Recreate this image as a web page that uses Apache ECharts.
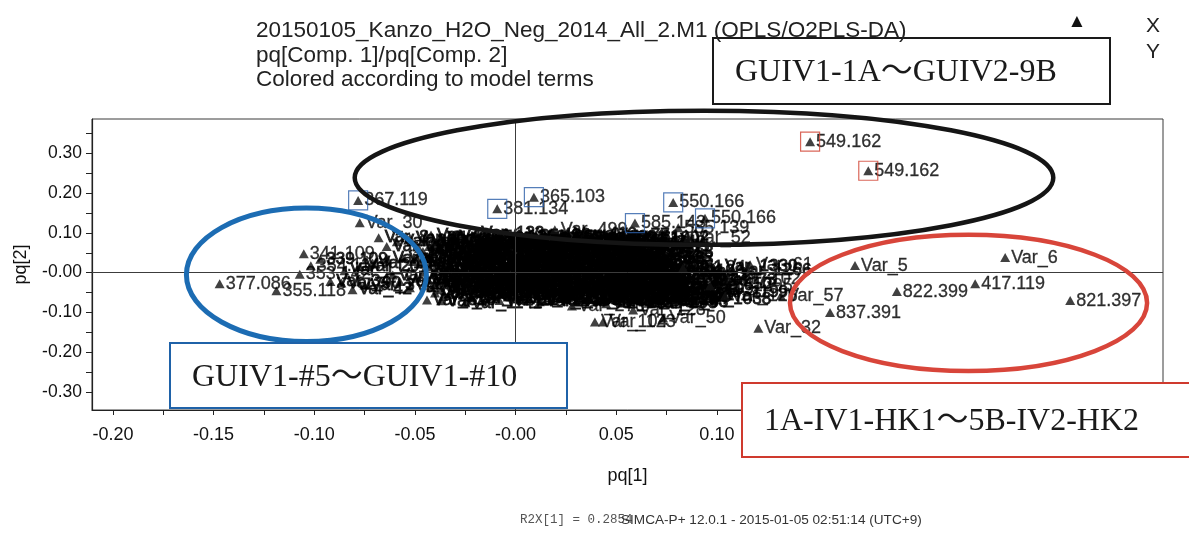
<!DOCTYPE html>
<html>
<head>
<meta charset="utf-8">
<script src="https://cdn.jsdelivr.net/npm/echarts@6/dist/echarts.min.js"></script>
<style>
  html, body { margin: 0; padding: 0; background: #fff; }
  #chart { width: 1189px; height: 538px; }
</style>
</head>
<body>
<div id="chart"></div>
<script>
// Axis ticks and labels (pq[1] horizontal, pq[2] vertical)
const xTickValues = [-0.2, -0.175, -0.15, -0.125, -0.1, -0.075, -0.05, -0.025, 0, 0.025, 0.05, 0.075, 0.1, 0.125, 0.15, 0.175, 0.2, 0.225, 0.25, 0.275, 0.3];
const xLabelValues = [-0.2, -0.15, -0.1, -0.05, 0, 0.05, 0.1, 0.15, 0.2, 0.25, 0.3];
const yTickValues = [-0.3, -0.25, -0.2, -0.15, -0.1, -0.05, 0, 0.05, 0.1, 0.15, 0.2, 0.25, 0.3, 0.35];
const yLabelValues = [-0.3, -0.2, -0.1, 0, 0.1, 0.2, 0.3];

// Loadings of the labelled variables: [pq1, pq2, name, highlight]
const labelledVars = [
  [0.1463, 0.3295, '549.162', 'r'],
  [0.1752, 0.2564, '549.162', 'r'],
  [-0.0782, 0.1816, '367.119', 'b'],
  [-0.0091, 0.1607, '381.134', 'b'],
  [0.0091, 0.1900, '365.103', 'b'],
  [0.0783, 0.1766, '550.166', 'b'],
  [0.0593, 0.1247, '585.143', 'b'],
  [0.0941, 0.1368, '550.166', 'b'],
  [0.0808, 0.1128, '585.139', ''],
  [-0.0774, 0.1254, 'Var_30', ''],
  [0.0195, 0.1080, 'Var_499', ''],
  [0.0857, 0.0877, 'Var_52', ''],
  [-0.1052, 0.0474, '341.109', ''],
  [-0.1017, 0.0171, '354.114', ''],
  [-0.1072, -0.0038, '353.142', ''],
  [-0.1470, -0.0282, '377.086', ''],
  [-0.1188, -0.0458, '355.118', ''],
  [0.1686, 0.0179, 'Var_5', ''],
  [0.2432, 0.0380, 'Var_6', ''],
  [0.1894, -0.0476, '822.399', ''],
  [0.2283, -0.0282, '417.119', ''],
  [0.2755, -0.0703, '821.397', ''],
  [0.1562, -0.1005, '837.391', ''],
  [0.1206, -0.1398, 'Var_32', ''],
  [0.0832, 0.0120, 'Var_24', ''],
  [0.1165, 0.0196, 'Var_61', ''],
  [0.0966, -0.0330, 'Var_1295', ''],
  [0.1056, -0.0160, 'Var_102', ''],
  [0.1041, -0.0580, 'Var_126', ''],
  [0.1318, -0.0580, 'Var_57', ''],
  [0.0584, -0.0940, 'Var_128', ''],
  [0.0394, -0.1240, 'Var_104', ''],
  [0.0434, -0.1240, 'Var_123', ''],
  [0.0733, -0.1140, 'Var_50', ''],
  [0.0280, -0.0840, 'Var_276', '']
];

// Loadings of the remaining variables in the central cloud: [pq1, pq2, name]
const cloudVars = [
  [-0.042, 0.095, 'Var_43'], [-0.031, 0.089, 'Var_254'], [-0.020, 0.098, 'Var_133'], [-0.008, 0.091, 'Var_25'],
  [0.003, 0.094, 'Var_496'], [0.015, 0.088, 'Var_318'], [0.026, 0.097, 'Var_410'], [0.036, 0.090, 'Var_1091'],
  [0.047, 0.093, 'Var_77'], [0.057, 0.087, 'Var_1002'],
  [-0.037, 0.087, 'Var_552'], [-0.025, 0.084, 'Var_119'], [-0.014, 0.088, 'Var_1213'], [-0.003, 0.085, 'Var_307'],
  [0.009, 0.089, 'Var_85'], [0.020, 0.083, 'Var_740'], [0.031, 0.086, 'Var_1160'], [0.041, 0.084, 'Var_229'],
  [0.052, 0.088, 'Var_61x'],
  [-0.045, 0.078, 'Var_219'], [-0.036, 0.083, 'Var_45'], [-0.024, 0.077, 'Var_1120'], [-0.013, 0.082, 'Var_267'],
  [-0.002, 0.079, 'Var_38'], [0.009, 0.084, 'Var_503'], [0.021, 0.076, 'Var_1187'], [0.031, 0.081, 'Var_92'],
  [0.042, 0.078, 'Var_615'], [0.052, 0.083, 'Var_71'], [0.060, 0.077, 'Var_340'],
  [-0.040, 0.072, 'Var_636'], [-0.029, 0.075, 'Var_104x'], [-0.018, 0.071, 'Var_291'], [-0.007, 0.074, 'Var_55'],
  [0.004, 0.070, 'Var_1230'], [0.015, 0.076, 'Var_472'], [0.026, 0.072, 'Var_89'], [0.037, 0.074, 'Var_1011'],
  [0.047, 0.071, 'Var_366'], [0.057, 0.075, 'Var_52x'],
  [-0.043, 0.066, 'Var_188'], [-0.033, 0.070, 'Var_12'], [-0.021, 0.064, 'Var_871'], [-0.010, 0.069, 'Var_356'],
  [0.001, 0.065, 'Var_64'], [0.012, 0.071, 'Var_1023'], [0.024, 0.066, 'Var_447'], [0.034, 0.068, 'Var_19'],
  [0.045, 0.063, 'Var_726'], [0.055, 0.070, 'Var_58'], [0.062, 0.066, 'Var_905'],
  [-0.048, 0.061, 'Var_1184'], [-0.038, 0.059, 'Var_263'], [-0.026, 0.062, 'Var_94'], [-0.015, 0.058, 'Var_1054'],
  [-0.004, 0.061, 'Var_339'], [0.007, 0.063, 'Var_76'], [0.019, 0.059, 'Var_1227'], [0.030, 0.062, 'Var_485'],
  [0.040, 0.058, 'Var_21'], [0.050, 0.061, 'Var_968'], [0.059, 0.059, 'Var_137'],
  [-0.046, 0.053, 'Var_147'], [-0.037, 0.057, 'Var_682'], [-0.027, 0.051, 'Var_33'], [-0.016, 0.056, 'Var_1206'],
  [-0.005, 0.052, 'Var_278'], [0.006, 0.058, 'Var_91'], [0.018, 0.053, 'Var_564'], [0.029, 0.055, 'Var_15'],
  [0.039, 0.050, 'Var_803'], [0.050, 0.056, 'Var_47'], [0.060, 0.052, 'Var_1158'],
  [-0.041, 0.048, 'Var_418'], [-0.030, 0.046, 'Var_1127'], [-0.019, 0.049, 'Var_68'], [-0.008, 0.045, 'Var_593'],
  [0.003, 0.048, 'Var_1249'], [0.014, 0.050, 'Var_201'], [0.025, 0.046, 'Var_82'], [0.035, 0.048, 'Var_1073'],
  [0.046, 0.045, 'Var_314'], [0.056, 0.049, 'Var_96'],
  [-0.044, 0.040, 'Var_391'], [-0.034, 0.044, 'Var_86'], [-0.023, 0.038, 'Var_1042'], [-0.012, 0.043, 'Var_172'],
  [-0.001, 0.039, 'Var_29'], [0.010, 0.045, 'Var_658'], [0.021, 0.040, 'Var_113'], [0.032, 0.042, 'Var_947'],
  [0.043, 0.037, 'Var_62'], [0.053, 0.043, 'Var_1274'], [0.063, 0.039, 'Var_305'],
  [-0.042, 0.035, 'Var_745'], [-0.031, 0.033, 'Var_51'], [-0.020, 0.036, 'Var_1135'], [-0.009, 0.032, 'Var_240x'],
  [0.002, 0.035, 'Var_87'], [0.013, 0.037, 'Var_819'], [0.024, 0.033, 'Var_1209'], [0.035, 0.035, 'Var_177'],
  [0.045, 0.032, 'Var_40'], [0.055, 0.036, 'Var_1056'], [0.064, 0.033, 'Var_383'],
  [-0.047, 0.027, 'Var_519'], [-0.038, 0.031, 'Var_74'], [-0.028, 0.025, 'Var_1139'], [-0.017, 0.030, 'Var_226'],
  [-0.006, 0.026, 'Var_41'], [0.005, 0.032, 'Var_787'], [0.016, 0.027, 'Var_156'], [0.027, 0.029, 'Var_83'],
  [0.038, 0.024, 'Var_1065'], [0.048, 0.030, 'Var_412'], [0.058, 0.026, 'Var_67'],
  [-0.045, 0.022, 'Var_1201'], [-0.035, 0.020, 'Var_254x'], [-0.024, 0.023, 'Var_98'], [-0.013, 0.019, 'Var_1029'],
  [-0.002, 0.022, 'Var_436'], [0.009, 0.024, 'Var_61y'], [0.020, 0.020, 'Var_1171'], [0.031, 0.022, 'Var_352'],
  [0.041, 0.019, 'Var_79'], [0.051, 0.023, 'Var_1088'], [0.061, 0.020, 'Var_217'],
  [-0.043, 0.014, 'Var_298'], [-0.032, 0.018, 'Var_53'], [-0.022, 0.012, 'Var_934'], [-0.011, 0.017, 'Var_181'],
  [0.000, 0.013, 'Var_22'], [0.011, 0.019, 'Var_709'], [0.023, 0.014, 'Var_1097'], [0.033, 0.016, 'Var_35'],
  [0.044, 0.011, 'Var_468'], [0.054, 0.017, 'Var_99'], [0.064, 0.013, 'Var_1251'],
  [-0.040, 0.009, 'Var_527'], [-0.029, 0.007, 'Var_1142'], [-0.018, 0.010, 'Var_63x'], [-0.007, 0.006, 'Var_285'],
  [0.004, 0.009, 'Var_1268'], [0.015, 0.011, 'Var_106'], [0.026, 0.007, 'Var_57x'], [0.037, 0.009, 'Var_934x'],
  [0.047, 0.006, 'Var_211'], [0.057, 0.010, 'Var_1093'], [0.067, 0.007, 'Var_48x'],
  [-0.046, 0.001, 'Var_603'], [-0.036, 0.005, 'Var_18'], [-0.026, -0.001, 'Var_1176'], [-0.015, 0.004, 'Var_247'],
  [-0.004, 0.000, 'Var_69'], [0.007, 0.006, 'Var_832'], [0.018, 0.001, 'Var_140'], [0.029, 0.003, 'Var_27'],
  [0.040, -0.002, 'Var_951'], [0.050, 0.004, 'Var_376'], [0.060, 0.000, 'Var_88'], [0.070, 0.003, 'Var_1219'],
  [-0.041, -0.004, 'Var_1037'], [-0.030, -0.006, 'Var_322'], [-0.019, -0.003, 'Var_70'], [-0.008, -0.007, 'Var_1185'],
  [0.003, -0.004, 'Var_459'], [0.014, -0.002, 'Var_93x'], [0.025, -0.006, 'Var_1240'], [0.036, -0.004, 'Var_168'],
  [0.046, -0.007, 'Var_32x'], [0.056, -0.003, 'Var_1101'], [0.066, -0.006, 'Var_274'], [0.075, -0.004, 'Var_56'],
  [-0.044, -0.012, 'Var_425'], [-0.033, -0.008, 'Var_93'], [-0.023, -0.014, 'Var_1081'], [-0.012, -0.009, 'Var_214'],
  [-0.001, -0.013, 'Var_46'], [0.010, -0.007, 'Var_697'], [0.022, -0.012, 'Var_165'], [0.032, -0.010, 'Var_1302'],
  [0.043, -0.015, 'Var_59'], [0.053, -0.009, 'Var_548'], [0.063, -0.013, 'Var_1262'],
  [-0.039, -0.017, 'Var_689'], [-0.028, -0.019, 'Var_1163'], [-0.017, -0.016, 'Var_44x'], [-0.006, -0.020, 'Var_302'],
  [0.005, -0.017, 'Var_1015'], [0.016, -0.015, 'Var_80'], [0.027, -0.019, 'Var_575'], [0.038, -0.017, 'Var_1237'],
  [0.048, -0.020, 'Var_124'], [0.058, -0.016, 'Var_60'], [0.068, -0.019, 'Var_1119'],
  [-0.045, -0.025, 'Var_731'], [-0.035, -0.021, 'Var_16'], [-0.025, -0.027, 'Var_1048'], [-0.014, -0.022, 'Var_283'],
  [-0.003, -0.026, 'Var_75'], [0.008, -0.020, 'Var_916'], [0.019, -0.025, 'Var_132'], [0.030, -0.023, 'Var_48'],
  [0.041, -0.028, 'Var_1164'], [0.051, -0.022, 'Var_359'], [0.061, -0.026, 'Var_81'], [0.071, -0.023, 'Var_1283'],
  [-0.040, -0.030, 'Var_366x'], [-0.029, -0.032, 'Var_1066'], [-0.018, -0.029, 'Var_84'], [-0.007, -0.033, 'Var_751'],
  [0.004, -0.030, 'Var_1224'], [0.016, -0.028, 'Var_190'], [0.027, -0.032, 'Var_35x'], [0.038, -0.030, 'Var_1047'],
  [0.049, -0.033, 'Var_421'], [0.059, -0.029, 'Var_65'], [0.069, -0.032, 'Var_1207'],
  [-0.042, -0.038, 'Var_462'], [-0.031, -0.034, 'Var_97'], [-0.020, -0.040, 'Var_1013'], [-0.009, -0.035, 'Var_195'],
  [0.002, -0.039, 'Var_37'], [0.013, -0.033, 'Var_874'], [0.025, -0.038, 'Var_209'], [0.035, -0.036, 'Var_66'],
  [0.046, -0.041, 'Var_1195'], [0.056, -0.035, 'Var_431'], [0.066, -0.039, 'Var_72'],
  [-0.037, -0.043, 'Var_896'], [-0.026, -0.045, 'Var_1150'], [-0.014, -0.042, 'Var_237'], [-0.003, -0.046, 'Var_52y'],
  [0.008, -0.043, 'Var_1084x'], [0.020, -0.041, 'Var_347'], [0.031, -0.045, 'Var_91x'], [0.042, -0.043, 'Var_1271'],
  [0.052, -0.046, 'Var_158'], [0.062, -0.042, 'Var_43x'], [0.072, -0.045, 'Var_1033'],
  [-0.040, -0.051, 'Var_588'], [-0.028, -0.047, 'Var_23'], [-0.017, -0.053, 'Var_1106'], [-0.006, -0.048, 'Var_261'],
  [0.005, -0.052, 'Var_54'], [0.016, -0.046, 'Var_963'], [0.027, -0.051, 'Var_118'], [0.038, -0.049, 'Var_39'],
  [0.049, -0.054, 'Var_1247'], [0.059, -0.048, 'Var_387'], [0.069, -0.052, 'Var_95'],
  [-0.033, -0.055, 'Var_705'], [-0.011, -0.057, 'Var_1196'], [0.000, -0.054, 'Var_131'], [0.019, -0.058, 'Var_86x'],
  [0.031, -0.055, 'Var_1258'], [0.042, -0.057, 'Var_403'], [0.053, -0.059, 'Var_77x'], [0.064, -0.055, 'Var_1178'],
  [0.074, -0.058, 'Var_266'],
  [-0.036, -0.060, 'Var_675'], [-0.022, -0.064, 'Var_14'], [-0.004, -0.061, 'Var_1152'], [0.012, -0.065, 'Var_232'],
  [0.024, -0.059, 'Var_78'], [0.036, -0.066, 'Var_1018'], [0.047, -0.062, 'Var_149'], [0.058, -0.067, 'Var_44'],
  [0.068, -0.063, 'Var_1290'],
  [0.003, -0.067, 'Var_612'], [0.018, -0.070, 'Var_1094'], [0.040, -0.069, 'Var_289'], [0.051, -0.066, 'Var_73x'],
  [0.062, -0.070, 'Var_1228'], [0.071, -0.068, 'Var_174'],
  [0.030, -0.073, 'Var_514'], [0.045, -0.078, 'Var_28'], [0.056, -0.072, 'Var_1077'], [0.066, -0.077, 'Var_293'],
  [0.076, -0.074, 'Var_63'],
  [0.090, -0.005, 'Var_36'], [0.077, -0.015, 'Var_1244'], [0.093, -0.030, 'Var_450'], [0.084, -0.042, 'Var_109'],
  [0.097, -0.050, 'Var_1199'], [0.079, -0.058, 'Var_31'], [0.088, -0.068, 'Var_1038'], [0.100, -0.020, 'Var_73'],
  [0.108, 0.005, 'Var_1266'], [0.101, 0.016, 'Var_1330'],
  [-0.064, 0.066, 'Var_121'], [-0.059, 0.078, 'Var_205'], [-0.0525, 0.087, 'Var_11'], [-0.056, 0.037, 'Var_344'],
  [-0.064, 0.037, 'Var_17'], [-0.051, 0.028, 'Var_1084'], [-0.061, -0.006, 'Var_26'], [-0.0525, -0.038, 'Var_153'],
  [-0.0575, -0.022, 'Var_49'], [-0.049, -0.014, 'Var_610'],
  [-0.097, 0.034, '339.109'], [-0.092, -0.022, 'Var_34'], [-0.0865, -0.026, 'Var_90'], [-0.0774, 0.015, 'Var_20'],
  [-0.071, 0.024, 'Var_13'], [-0.068, 0.088, 'Var_8'], [-0.085, 0.005, 'Var_1'], [-0.081, -0.043, 'Var_42'],
  [-0.075, -0.031, 'Var_3'],
  [-0.044, -0.069, 'Var_810'], [-0.037, -0.071, 'Var_7'], [-0.025, -0.076, 'Var_1141'], [-0.008, -0.070, 'Var_1148'],
  [0.012, -0.073, 'Var_240']
];

// Hand-drawn group outlines in pq units: [centre pq1, centre pq2, radius pq1, radius pq2, colour, width]
const groupOutlines = [
  [0.0936, 0.2388, 0.1735, 0.1688, '#151515', 4.5],
  [-0.1039, -0.0055, 0.0596, 0.1680, '#1c6cb3', 5],
  [0.2250, -0.0761, 0.0887, 0.1713, '#d8453a', 4.5]
];

// Group captions: [text, left, top, width, height, colour]
const groupCaptions = [
  ['GUIV1-1A～GUIV2-9B', 713, 38, 397, 66, '#1a1a1a'],
  ['GUIV1-#5～GUIV1-#10', 170, 343, 397, 65, '#1f62a8'],
  ['1A-IV1-HK1～5B-IV2-HK2', 742, 383, 460, 74, '#cf3a2e']
];

const SANS = '"Liberation Sans", Arial, sans-serif';
const SERIF = '"Liberation Serif", "Times New Roman", "Noto Sans CJK JP", serif';
const INK = '#111';

const chart = echarts.init(document.getElementById('chart'), null, { renderer: 'canvas' });

const tickFmt = v => (Math.abs(v) < 1e-9 ? '-0.00' : v.toFixed(2));

const markColour = { b: '#2a5ea8', r: '#d0402f' };

const option = {
  animation: false,
  backgroundColor: '#fff',
  grid: { left: 92, right: 26, top: 119, bottom: 128, show: true, borderColor: '#3a3a3a', borderWidth: 1 },
  xAxis: {
    type: 'value', min: -0.2104, max: 0.3216,
    name: 'pq[1]', nameLocation: 'middle', nameGap: 57,
    nameTextStyle: { fontFamily: SANS, fontSize: 18, color: INK },
    axisLine: { show: true, onZero: false, lineStyle: { color: '#222', width: 1.2 } },
    axisTick: { show: true, length: 5, customValues: xTickValues, lineStyle: { color: '#222' } },
    axisLabel: { customValues: xLabelValues, formatter: tickFmt, fontFamily: SANS, fontSize: 18, color: INK, margin: 16 },
    splitLine: { show: false }
  },
  yAxis: {
    type: 'value', min: -0.3456, max: 0.3866,
    name: 'pq[2]', nameLocation: 'middle', nameGap: 62,
    nameTextStyle: { fontFamily: SANS, fontSize: 18, color: INK },
    axisLine: { show: true, onZero: false, lineStyle: { color: '#222', width: 1.2 } },
    axisTick: { show: true, length: 6, customValues: yTickValues, lineStyle: { color: '#222' } },
    axisLabel: { customValues: yLabelValues, formatter: tickFmt, fontFamily: SANS, fontSize: 17.5, color: INK, margin: 10 },
    splitLine: { show: false }
  },
  series: [
    {
      name: 'axes', type: 'scatter', data: [], z: 1, silent: true,
      markLine: {
        silent: true, symbol: 'none', animation: false,
        label: { show: false },
        lineStyle: { color: '#3c3c3c', width: 1, type: 'solid' },
        data: [{ xAxis: 0 }, { yAxis: 0 }]
      }
    },
    {
      name: 'X', type: 'scatter', z: 3,
      symbol: 'triangle', symbolSize: [10, 9],
      itemStyle: { color: INK },
      label: {
        show: true, position: 'right', distance: 1, formatter: '{b}',
        fontFamily: SANS, fontSize: 17, color: '#000',
        textBorderColor: '#000', textBorderWidth: 0.9
      },
      data: cloudVars.map(d => ({ value: [d[0], d[1]], name: d[2] }))
    },
    {
      name: 'X', type: 'scatter', z: 4,
      symbol: 'triangle', symbolSize: [10, 9],
      itemStyle: { color: INK },
      label: {
        show: true, position: 'right', distance: 1, formatter: '{b}',
        fontFamily: SANS, fontSize: 18, color: '#000',
        textBorderColor: '#000', textBorderWidth: 0.3
      },
      data: labelledVars.map(d => ({ value: [d[0], d[1]], name: d[2] }))
    },
    {
      name: 'selected', type: 'scatter', z: 5, silent: true,
      symbol: 'rect', symbolSize: 19,
      data: labelledVars.filter(d => d[3]).map(d => ({
        value: [d[0], d[1]],
        itemStyle: { color: 'rgba(0,0,0,0)', borderColor: markColour[d[3]], borderWidth: 1.2 }
      }))
    }
  ]
};

chart.setOption(option);

// Outlines and captions drawn over the plot
const toPx = (x, y) => chart.convertToPixel({ xAxisIndex: 0, yAxisIndex: 0 }, [x, y]);
const graphics = [];

groupOutlines.forEach(g => {
  const c = toPx(g[0], g[1]);
  const ex = toPx(g[0] + g[2], g[1]);
  const ey = toPx(g[0], g[1] + g[3]);
  graphics.push({
    type: 'ellipse', z: 50, silent: true,
    shape: { cx: c[0], cy: c[1], rx: ex[0] - c[0], ry: c[1] - ey[1] },
    style: { fill: null, stroke: g[4], lineWidth: g[5] }
  });
});

groupCaptions.forEach(c => {
  graphics.push({
    type: 'rect', z: 60, silent: true,
    shape: { x: c[1], y: c[2], width: c[3], height: c[4] },
    style: { fill: '#fff', stroke: c[5], lineWidth: 2 }
  });
  graphics.push({
    type: 'text', z: 61, silent: true,
    x: c[1] + 22, y: c[2] + c[4] / 2 + 2,
    style: { text: c[0], font: '32px ' + SERIF, fill: '#1a1a1a', verticalAlign: 'middle' }
  });
});

// Header block
[
  ['20150105_Kanzo_H2O_Neg_2014_All_2.M1 (OPLS/O2PLS-DA)', 31],
  ['pq[Comp. 1]/pq[Comp. 2]', 56],
  ['Colored according to model terms', 80]
].forEach(t => {
  graphics.push({
    type: 'text', z: 70, silent: true, x: 256, y: t[1],
    style: { text: t[0], font: '22.5px ' + SANS, fill: '#222', verticalAlign: 'middle' }
  });
});

// Legend
graphics.push({ type: 'text', z: 70, x: 1077, y: 22, style: { text: '▲', font: '19px ' + SANS, fill: INK, align: 'center', verticalAlign: 'middle' } });
graphics.push({ type: 'text', z: 70, x: 1153, y: 26, style: { text: 'X', font: '21px ' + SANS, fill: '#222', align: 'center', verticalAlign: 'middle' } });
graphics.push({ type: 'text', z: 70, x: 1153, y: 52, style: { text: 'Y', font: '21px ' + SANS, fill: '#222', align: 'center', verticalAlign: 'middle' } });

// Footer
graphics.push({ type: 'text', z: 70, x: 520, y: 520, style: { text: 'R2X[1] = 0.2854', font: '12.5px "Liberation Mono", monospace', fill: '#555', verticalAlign: 'middle' } });
graphics.push({ type: 'text', z: 71, x: 621, y: 520, style: { text: 'SIMCA-P+ 12.0.1 - 2015-01-05 02:51:14 (UTC+9)', font: '13.6px ' + SANS, fill: '#333', verticalAlign: 'middle' } });

chart.setOption({ graphic: graphics });
</script>
</body>
</html>
